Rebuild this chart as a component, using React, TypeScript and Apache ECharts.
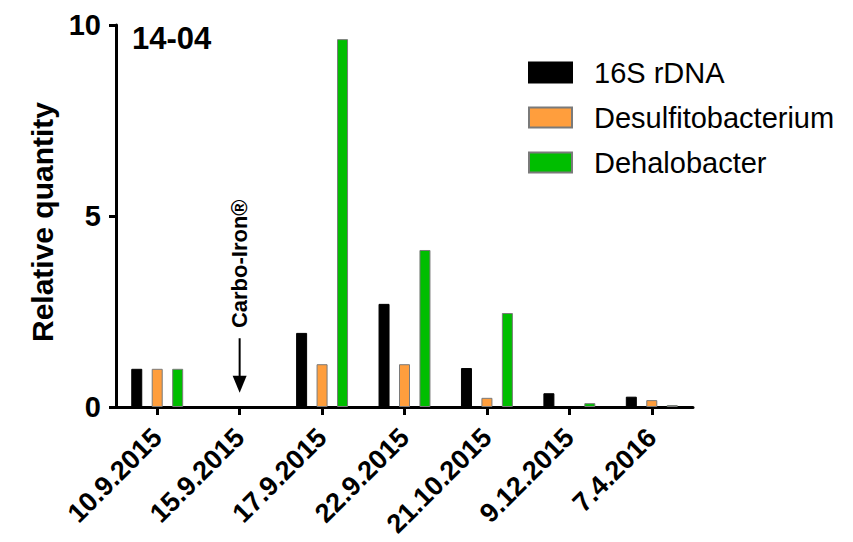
import React, { useEffect, useRef } from "react";
import * as echarts from "echarts";

const categories = ["10.9.2015", "15.9.2015", "17.9.2015", "22.9.2015", "21.10.2015", "9.12.2015", "7.4.2016"];
const rDNA16S = [1.0, null, 1.94, 2.7, 1.02, 0.36, 0.27];
const desulfito = [1.0, null, 1.12, 1.12, 0.24, null, 0.18];
const dehalo = [1.0, null, 9.63, 4.11, 2.46, 0.1, 0.05];
const yTicks = [0, 5, 10];
const panelLabel = "14-04";
const annotation = "Carbo-Iron®";
const annotationCategory = "15.9.2015";

const FONT = "'Liberation Sans', Arial, Helvetica, sans-serif";

export default function App() {
  const ref = useRef<HTMLDivElement>(null);
  useEffect(() => {
    if (!ref.current) return;
    const chart = echarts.init(ref.current, undefined, { renderer: "svg" });
    const barW = 11;
    const mkSeries = (name: string, data: (number | null)[], color: string, border: string) => ({
      name,
      type: "bar",
      data,
      barWidth: barW,
      barGap: "86%",
      itemStyle: { color, borderColor: border, borderWidth: 1 },
    });
    chart.setOption({
      animation: false,
      title: {
        text: panelLabel,
        left: 127,
        top: 18,
        textStyle: { fontFamily: FONT, fontWeight: "bold", fontSize: 31, color: "#000" },
      },
      grid: { left: 116, right: 160, top: 25, bottom: 135, containLabel: false },
      legend: {
        orient: "vertical",
        left: 528,
        top: 58,
        padding: 0,
        itemWidth: 43,
        itemHeight: 20,
        itemGap: 16,
        icon: "rect",
        textStyle: { fontFamily: FONT, fontSize: 29, color: "#000", padding: [0, 0, 0, 17] },
        data: ["16S rDNA", "Desulfitobacterium", "Dehalobacter"],
      },
      xAxis: {
        type: "category",
        data: categories,
        axisLine: { lineStyle: { color: "#000", width: 3 } },
        axisTick: { show: true, alignWithLabel: true, length: 8, lineStyle: { color: "#000", width: 3 } },
        axisLabel: {
          rotate: 45,
          interval: 0,
          margin: 26,
          fontFamily: FONT,
          fontWeight: "bold",
          fontSize: 27,
          color: "#000",
        },
      },
      yAxis: {
        type: "value",
        min: 0,
        max: 10,
        interval: 5,
        name: "Relative quantity",
        nameLocation: "middle",
        nameRotate: 90,
        nameGap: 58,
        nameTextStyle: { fontFamily: FONT, fontWeight: "bold", fontSize: 30, color: "#000", padding: [0, 12, 0, 0] },
        splitLine: { show: false },
        axisLine: { show: true, lineStyle: { color: "#000", width: 3 } },
        axisTick: { show: true, length: 7, lineStyle: { color: "#000", width: 3 } },
        axisLabel: {
          margin: 15,
          fontFamily: FONT,
          fontWeight: "bold",
          fontSize: 29,
          color: "#000",
          formatter: (v: number) => (yTicks.includes(v) ? String(v) : ""),
        },
      },
      series: [
        mkSeries("16S rDNA", rDNA16S, "#000000", "#000000"),
        mkSeries("Desulfitobacterium", desulfito, "#FF9E3D", "#7a7a7a"),
        mkSeries("Dehalobacter", dehalo, "#00BE00", "#7a7a7a"),
      ],
    });

    const [ax, yTop] = chart.convertToPixel({ xAxisIndex: 0, yAxisIndex: 0 }, [annotationCategory, 1.8]) as number[];
    const [, yTip] = chart.convertToPixel({ xAxisIndex: 0, yAxisIndex: 0 }, [annotationCategory, 0.37]) as number[];
    const [, yText] = chart.convertToPixel({ xAxisIndex: 0, yAxisIndex: 0 }, [annotationCategory, 3.75]) as number[];
    const headH = 17;
    const headW = 7;
    chart.setOption({
      graphic: [
        {
          type: "line",
          shape: { x1: ax, y1: yTop, x2: ax, y2: yTip - headH + 2 },
          style: { stroke: "#000", lineWidth: 2 },
        },
        {
          type: "polygon",
          shape: { points: [[ax - headW, yTip - headH], [ax + headW, yTip - headH], [ax, yTip]] },
          style: { fill: "#000" },
        },
        {
          type: "text",
          x: ax,
          y: yText,
          rotation: Math.PI / 2,
          style: {
            text: annotation,
            fontFamily: FONT,
            fontWeight: "bold",
            fontSize: 22,
            fill: "#000",
            align: "center",
            verticalAlign: "middle",
          },
        },
      ],
    });
    return () => chart.dispose();
  }, []);
  return <div ref={ref} style={{ position: "fixed", left: 0, top: 0, width: 853, height: 542, background: "#fff" }} />;
}
